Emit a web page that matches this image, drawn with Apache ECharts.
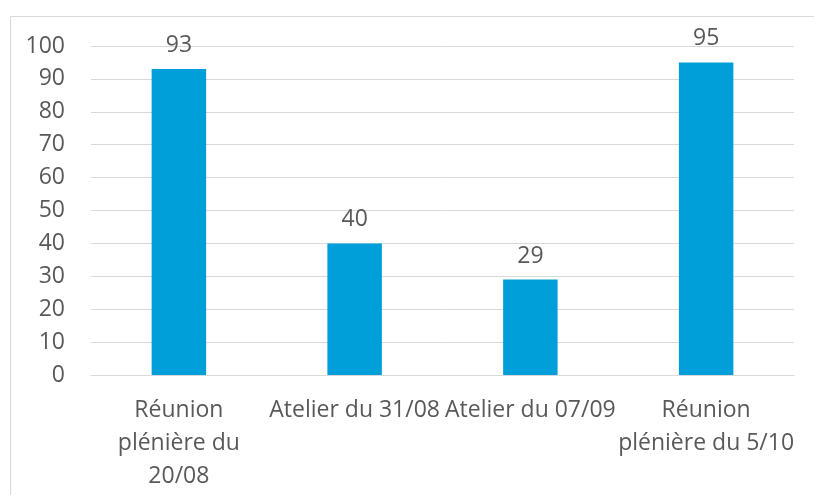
<!DOCTYPE html>
<html>
<head>
<meta charset="utf-8">
<script src="https://cdn.jsdelivr.net/npm/echarts@6/dist/echarts.min.js"></script>
<style>
  html, body { margin: 0; padding: 0; background: #fff; }
  #main { width: 814px; height: 495px; }
</style>
</head>
<body>
<div id="main"></div>
<script>
// categories and values
var categories = ['Réunion\nplénière du\n20/08', 'Atelier du 31/08', 'Atelier du 07/09', 'Réunion\nplénière du 5/10'];
var values = [93, 40, 29, 95];

var textColor = '#595959';
var fontFamily = '"Open Sans", "Noto Sans", sans-serif';

var myChart = echarts.init(document.getElementById('main'));
myChart.setOption({
  animation: false,
  textStyle: { fontFamily: fontFamily },
  graphic: [
    {
      type: 'rect',
      shape: { x: 10.5, y: 16.5, width: 830, height: 520 },
      style: { fill: 'none', stroke: '#d9d9d9', lineWidth: 1 },
      silent: true
    }
  ],
  grid: { left: 91, right: 20, top: 46, bottom: 120 },
  xAxis: {
    type: 'category',
    data: categories,
    axisTick: { show: false },
    axisLine: { lineStyle: { color: '#d9d9d9', width: 1 } },
    axisLabel: {
      color: textColor,
      fontSize: 23,
      lineHeight: 33,
      margin: 19,
      interval: 0,
      fontFamily: fontFamily
    }
  },
  yAxis: {
    type: 'value',
    min: 0,
    max: 100,
    interval: 10,
    axisLine: { show: false },
    axisTick: { show: false },
    splitLine: { lineStyle: { color: '#d9d9d9', width: 1 } },
    axisLabel: { color: textColor, fontSize: 23, margin: 26, fontFamily: fontFamily }
  },
  series: [
    {
      type: 'bar',
      data: values,
      barWidth: '31%',
      itemStyle: { color: '#009fda' },
      label: {
        show: true,
        position: 'top',
        distance: 12,
        color: textColor,
        fontSize: 23,
        fontFamily: fontFamily
      }
    }
  ]
});
</script>
</body>
</html>
